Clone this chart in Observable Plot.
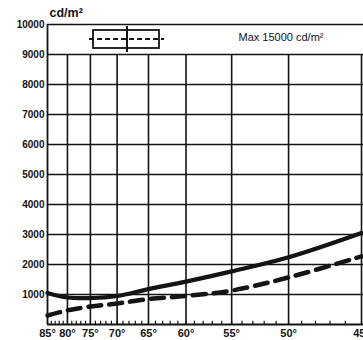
<!DOCTYPE html>
<html>
<head>
<meta charset="utf-8">
<script src="https://cdn.jsdelivr.net/npm/d3@7"></script>
<script src="https://cdn.jsdelivr.net/npm/@observablehq/plot@0.6"></script>
<style>
  html, body { margin: 0; padding: 0; background: #fff; }
  #wrap { position: relative; width: 363px; height: 340px; overflow: hidden; font-family: "Liberation Sans", Arial, sans-serif; }
  #wrap svg { display: block; }
  #legend { position: absolute; left: 0; top: 0; pointer-events: none; }
</style>
</head>
<body>
<div id="wrap"></div>
<script>
// Data
const angles = [85, 80, 75, 70, 65, 60, 55, 50, 45];           // viewing angle (degrees)
const solidValues = [1050, 900, 880, 950, 1180, 1430, 1770, 2240, 3050];  // cd/m²
const dashedValues = [300, 470, 600, 700, 850, 950, 1130, 1570, 2270];    // cd/m²
const yTicks = [1000, 2000, 3000, 4000, 5000, 6000, 7000, 8000, 9000, 10000];
const xTicks = [85, 80, 75, 70, 65, 60, 55, 50, 45];
const minorTicks = d3.range(45, 86, 1);
const unitLabel = "cd/m²";
const maxLabel = "Max 15000 cd/m²";

// the angle axis of the original is non-linear: position ~ cot(a) + 0.78·cot²(a)
const cot = a => 1 / Math.tan(a * Math.PI / 180);
const pos = a => { const c = cot(a); return c + 0.78 * c * c; };
const solid = angles.map((a, i) => ({a, v: solidValues[i]}));
const dashed = angles.map((a, i) => ({a, v: dashedValues[i]}));

const ink = "#141414";

const chart = Plot.plot({
  width: 363,
  height: 340,
  marginLeft: 47,
  marginTop: 24,
  marginBottom: 16,
  marginRight: 2,
  style: {fontFamily: "'Liberation Sans', Arial, sans-serif", color: ink, background: "#fff", overflow: "visible"},
  x: {type: "linear", domain: [pos(85), pos(45)], axis: null},
  y: {domain: [0, 10000], axis: null},
  marks: [
    // horizontal gridlines incl. top border
    Plot.ruleY(yTicks, {stroke: ink, strokeWidth: 1.6, x1: pos(85), x2: pos(44)}),
    // vertical gridlines (below the legend band)
    Plot.ruleX(xTicks.slice(1), {x: d => pos(d), y1: 0, y2: 9000, stroke: ink, strokeWidth: 1.6}),
    // left frame
    Plot.ruleX([85], {x: d => pos(d), y1: 0, y2: 10000, stroke: ink, strokeWidth: 1.8}),
    // bottom axis line
    Plot.ruleY([0], {stroke: ink, strokeWidth: 1.8, x1: pos(85), x2: pos(44)}),
    // minor ticks every degree
    Plot.ruleX(minorTicks, {x: d => pos(d), y1: 0, y2: 110, stroke: ink, strokeWidth: 1.2}),
    // y labels
    Plot.axisY({ticks: yTicks, tickSize: 0, tickPadding: 3, fontSize: 10, fontWeight: "bold", fill: ink, tickFormat: d => String(d), label: null}),
    // x labels
    Plot.text(xTicks, {x: d => pos(d), y: 0, text: d => d + "°", dy: 9, fontSize: 11, fontWeight: "bold", fill: ink, textAnchor: "middle"}),
    // curves
    Plot.line(solid, {x: d => pos(d.a), y: "v", curve: "catmull-rom", stroke: ink, strokeWidth: 4.2}),
    Plot.line(dashed, {x: d => pos(d.a), y: "v", curve: "catmull-rom", stroke: ink, strokeWidth: 4.5, strokeDasharray: "13,8"}),
    // unit label
    Plot.text([unitLabel], {frameAnchor: "top-left", dx: 2, dy: -16, fontSize: 12.5, fontWeight: "bold", fill: ink, textAnchor: "start", lineAnchor: "top"}),
    // legend caption
    Plot.text([maxLabel], {frameAnchor: "top-left", dx: 191, dy: 9, fontSize: 11, fill: ink, textAnchor: "start", lineAnchor: "top", letterSpacing: "1.1px", wordSpacing: "4px"})
  ]
});

document.getElementById("wrap").appendChild(chart);

// legend symbol (box with dashed line and vertical stroke)
const svg = d3.select("#wrap").append("svg")
  .attr("id", "legend").attr("width", 363).attr("height", 340);
svg.append("rect").attr("x", 93).attr("y", 30).attr("width", 66).attr("height", 18)
  .attr("fill", "none").attr("stroke", ink).attr("stroke-width", 1.8);
svg.append("line").attr("x1", 89).attr("x2", 164).attr("y1", 39).attr("y2", 39)
  .attr("stroke", ink).attr("stroke-width", 2).attr("stroke-dasharray", "5,3");
svg.append("line").attr("x1", 127).attr("x2", 127).attr("y1", 26).attr("y2", 52)
  .attr("stroke", ink).attr("stroke-width", 2);
</script>
</body>
</html>
